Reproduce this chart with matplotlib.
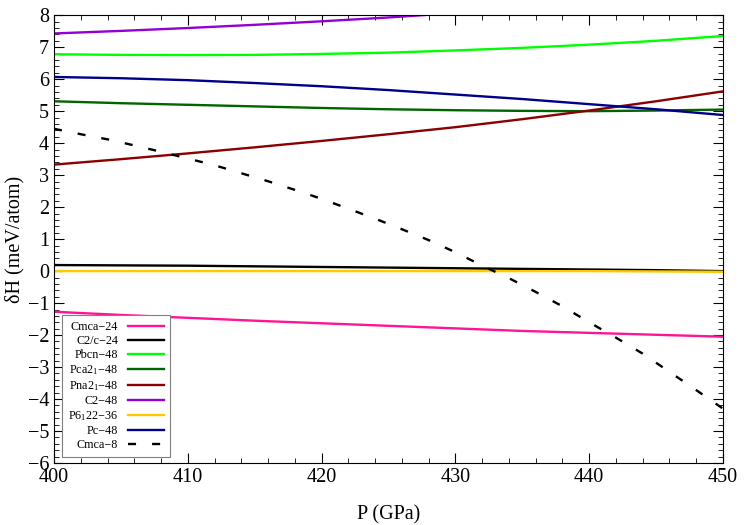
import matplotlib
matplotlib.use("Agg")
import matplotlib.pyplot as plt
from matplotlib.ticker import MultipleLocator, FuncFormatter

plt.rcParams['font.family'] = ['Liberation Serif', 'DejaVu Serif']
plt.rcParams['mathtext.fontset'] = 'custom'
plt.rcParams['mathtext.rm'] = 'Liberation Serif'
plt.rcParams['mathtext.it'] = 'Liberation Serif:italic'

# pressure grid (GPa)
pressure = [400, 405, 410, 415, 420, 425, 430, 435, 440, 445, 450]

# enthalpy differences (meV/atom)
cmca24 = [-1.27, -1.37, -1.46, -1.55, -1.63, -1.71, -1.79, -1.87, -1.93, -1.99, -2.05]
c2c24 = [0.19, 0.18, 0.17, 0.15, 0.13, 0.11, 0.09, 0.07, 0.05, 0.03, 0.0]
pbcn48 = [6.78, 6.76, 6.755, 6.76, 6.79, 6.83, 6.90, 6.98, 7.08, 7.20, 7.35]
pca21_48 = [5.31, 5.25, 5.20, 5.15, 5.10, 5.06, 5.03, 5.01, 5.00, 5.02, 5.05]
pna21_48 = [3.33, 3.50, 3.68, 3.87, 4.07, 4.28, 4.50, 4.75, 5.02, 5.31, 5.62]
c2_48 = [7.43, 7.51, 7.60, 7.70, 7.81, 7.93, 8.07, 8.22, 8.38, 8.55, 8.73]
p6122_36 = [0.0, 0.0, 0.0, 0.0, 0.0, 0.0, 0.0, 0.0, 0.0, -0.01, -0.02]
pc48 = [6.07, 6.03, 5.97, 5.88, 5.78, 5.66, 5.52, 5.38, 5.22, 5.06, 4.88]

pressure_cmca8 = [400, 402, 404, 406, 408, 410, 412, 414, 416, 418, 420, 422, 424,
                  426, 428, 430, 432, 434, 436, 438, 440, 442, 444, 446, 448, 450]
cmca8 = [4.45, 4.28, 4.12, 3.93, 3.73, 3.52, 3.31, 3.06, 2.81, 2.54, 2.26, 1.95, 1.64,
         1.31, 0.97, 0.59, 0.17, -0.22, -0.65, -1.10, -1.60, -2.08, -2.58, -3.15, -3.72, -4.30]

series = [
    ("Cmca\u221224", cmca24, "#ff1493"),
    ("C2/c\u221224", c2c24, "black"),
    ("Pbcn\u221248", pbcn48, "#00ff00"),
    ("Pca2$_1$\u221248", pca21_48, "#006400"),
    ("Pna2$_1$\u221248", pna21_48, "#8b0000"),
    ("C2\u221248", c2_48, "#9400d3"),
    ("P6$_1$22\u221236", p6122_36, "#ffc800"),
    ("Pc\u221248", pc48, "#00008b"),
]

fig = plt.figure(figsize=(7.5, 5.25), dpi=100)
ax = fig.add_axes([0.072, 0.118, 0.892, 0.853])

for label, vals, color in series:
    ax.plot(pressure, vals, color=color, lw=1.7, label=label)
ax.plot(pressure_cmca8, cmca8, color="black", lw=1.7, ls=(0, (3.4, 6.8)), label="Cmca\u22128")

ax.set_xlim(400, 450)
ax.set_ylim(-6, 8)
ax.xaxis.set_major_locator(MultipleLocator(10))
ax.xaxis.set_minor_locator(MultipleLocator(2))
ax.yaxis.set_major_locator(MultipleLocator(1))
ax.yaxis.set_minor_locator(MultipleLocator(0.2))
ax.tick_params(which='both', direction='in', top=True, right=True, labelsize=14.5)
ax.tick_params(which='major', length=7, width=0.8)
ax.tick_params(which='minor', length=3.5, width=0.6)
ax.yaxis.set_major_formatter(FuncFormatter(lambda v, p: f"{int(round(v))}".replace("-", "\u2212")))

ax.set_xlabel("P (GPa)", fontsize=14.5, labelpad=13)
ax.set_ylabel("\u03b4H (meV/atom)", fontsize=14.5, labelpad=2)

leg = ax.legend(loc='lower left', bbox_to_anchor=(0.012, 0.013), borderaxespad=0,
                fontsize=8.7, markerfirst=False, handlelength=3.0,
                fancybox=False, framealpha=1, edgecolor='gray',
                labelspacing=0.17, borderpad=0.5)
leg.get_frame().set_linewidth(0.8)
for t in leg.get_texts():
    t.set_ha('right')

fig.savefig("out.png", dpi=100)
